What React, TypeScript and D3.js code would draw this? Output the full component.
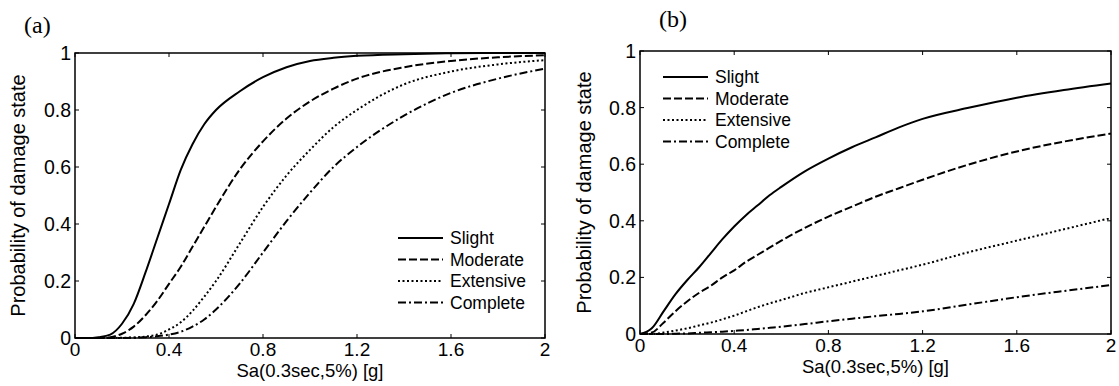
import React from 'react';
import * as d3 from 'd3';

const sa = [0, 0.05, 0.1, 0.15, 0.2, 0.25, 0.3, 0.35, 0.4, 0.45, 0.5, 0.55, 0.6, 0.7, 0.8, 0.9, 1.0, 1.1, 1.2, 1.4, 1.6, 1.8, 2.0];

const slightA = [0, 0, 0.003, 0.012, 0.05, 0.12, 0.23, 0.35, 0.47, 0.59, 0.68, 0.75, 0.8, 0.865, 0.915, 0.95, 0.972, 0.983, 0.99, 0.996, 0.999, 1, 1];
const moderateA = [0, 0, 0, 0.003, 0.015, 0.04, 0.08, 0.13, 0.19, 0.25, 0.32, 0.39, 0.46, 0.59, 0.69, 0.77, 0.83, 0.875, 0.91, 0.95, 0.972, 0.985, 0.992];
const extensiveA = [0, 0, 0, 0, 0.001, 0.002, 0.005, 0.012, 0.03, 0.055, 0.095, 0.145, 0.2, 0.33, 0.46, 0.57, 0.66, 0.74, 0.8, 0.89, 0.935, 0.96, 0.975];
const completeA = [0, 0, 0, 0, 0, 0.001, 0.003, 0.006, 0.012, 0.022, 0.04, 0.065, 0.1, 0.19, 0.3, 0.41, 0.51, 0.6, 0.67, 0.78, 0.86, 0.91, 0.945];

const slightB = [0, 0.02, 0.08, 0.14, 0.19, 0.235, 0.285, 0.335, 0.38, 0.42, 0.455, 0.49, 0.52, 0.575, 0.62, 0.66, 0.695, 0.73, 0.76, 0.8, 0.835, 0.862, 0.885];
const moderateB = [0, 0.005, 0.04, 0.08, 0.115, 0.145, 0.17, 0.2, 0.225, 0.255, 0.28, 0.305, 0.33, 0.375, 0.415, 0.45, 0.485, 0.515, 0.545, 0.6, 0.645, 0.68, 0.708];
const extensiveB = [0, 0, 0.005, 0.012, 0.02, 0.03, 0.04, 0.052, 0.065, 0.08, 0.095, 0.108, 0.12, 0.145, 0.165, 0.185, 0.205, 0.225, 0.245, 0.29, 0.33, 0.37, 0.41];
const completeB = [0, 0, 0, 0.001, 0.002, 0.004, 0.006, 0.008, 0.011, 0.014, 0.018, 0.022, 0.026, 0.035, 0.045, 0.054, 0.063, 0.071, 0.08, 0.105, 0.13, 0.152, 0.173];

const stateNames = ['Slight', 'Moderate', 'Extensive', 'Complete'];
const xTicks = [0, 0.4, 0.8, 1.2, 1.6, 2];
const yTicks = [0, 0.2, 0.4, 0.6, 0.8, 1];

const dashes = ['none', '8,3', '2,2.5', '8,3,2,3'];
const SANS = '"Liberation Sans", Arial, sans-serif';

type PanelProps = {
  series: number[][];
  left: number; right: number; top: number; bottom: number;
  tag: string; tagX: number; tagY: number;
  legendX: number; legendY: number;
  ylabelX: number;
};

const Panel = ({ series, left, right, top, bottom, tag, tagX, tagY, legendX, legendY, ylabelX }: PanelProps) => {
  const x = d3.scaleLinear().domain([0, 2]).range([left, right]);
  const y = d3.scaleLinear().domain([0, 1]).range([bottom, top]);
  const line = d3.line<number>()
    .x((_, i) => x(sa[i]))
    .y(d => y(d))
    .curve(d3.curveMonotoneX);
  const tk = 4;

  return (
    <g>
      <text x={tagX} y={tagY} fontFamily='"Liberation Serif", "Times New Roman", serif' fontSize={24}>{tag}</text>
      {series.map((s, i) => (
        <path key={i} d={line(s) || ''} fill="none" stroke="#000" strokeWidth={2}
          strokeDasharray={dashes[i]} />
      ))}
      <rect x={left} y={top} width={right - left} height={bottom - top} fill="none" stroke="#000" strokeWidth={1.5} />
      {xTicks.map(t => (
        <g key={'x' + t}>
          <line x1={x(t)} x2={x(t)} y1={bottom} y2={bottom - tk} stroke="#000" strokeWidth={1} />
          <line x1={x(t)} x2={x(t)} y1={top} y2={top + tk} stroke="#000" strokeWidth={1} />
          <text x={x(t)} y={bottom + 18} textAnchor="middle" fontFamily={SANS} fontSize={19}>{String(t)}</text>
        </g>
      ))}
      {yTicks.map(t => (
        <g key={'y' + t}>
          <line x1={left} x2={left + tk} y1={y(t)} y2={y(t)} stroke="#000" strokeWidth={1} />
          <line x1={right} x2={right - tk} y1={y(t)} y2={y(t)} stroke="#000" strokeWidth={1} />
          <text x={left - 4} y={y(t) + 7} textAnchor="end" fontFamily={SANS} fontSize={19.5}>{String(t)}</text>
        </g>
      ))}
      <text x={(left + right) / 2} y={bottom + 39} textAnchor="middle" fontFamily={SANS} fontSize={18.5}>Sa(0.3sec,5%) [g]</text>
      <text transform={`translate(${ylabelX},${(top + bottom) / 2}) rotate(-90)`} textAnchor="middle"
        fontFamily={SANS} fontSize={20}>Probability of damage state</text>
      {stateNames.map((n, i) => (
        <g key={n}>
          <line x1={legendX} x2={legendX + 45} y1={legendY + i * 21.5} y2={legendY + i * 21.5}
            stroke="#000" strokeWidth={2} strokeDasharray={dashes[i]} />
          <text x={legendX + 52} y={legendY + i * 21.5 + 6} fontFamily={SANS} fontSize={17.5}>{n}</text>
        </g>
      ))}
    </g>
  );
};

export default function App() {
  return (
    <svg width={1119} height={386} style={{ position: 'absolute', left: 0, top: 0, background: '#fff' }}>
      <rect width={1119} height={386} fill="#fff" />
      <Panel series={[slightA, moderateA, extensiveA, completeA]}
        left={75} right={545} top={53} bottom={338}
        tag="(a)" tagX={24} tagY={33}
        legendX={398} legendY={238} ylabelX={25} />
      <Panel series={[slightB, moderateB, extensiveB, completeB]}
        left={640} right={1111} top={51} bottom={334}
        tag="(b)" tagX={659} tagY={27}
        legendX={663} legendY={77} ylabelX={591} />
    </svg>
  );
}
